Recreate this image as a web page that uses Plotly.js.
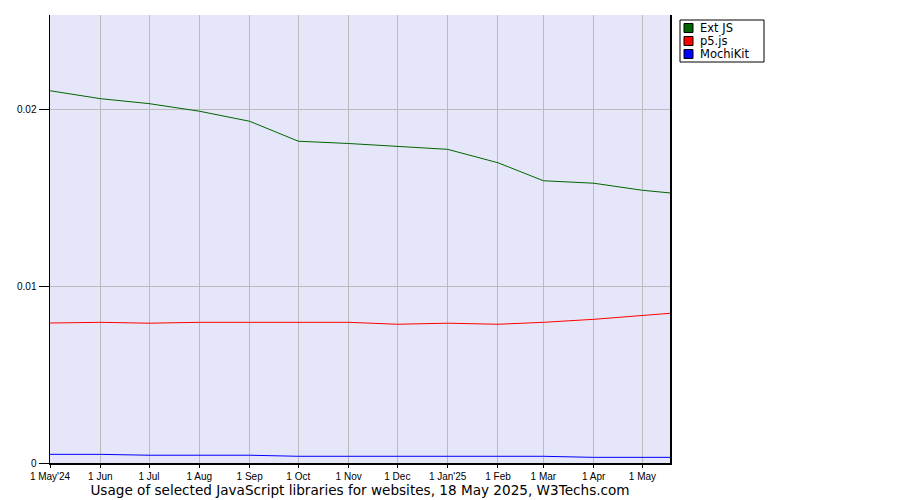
<!DOCTYPE html>
<html>
<head>
<meta charset="utf-8">
<script src="https://cdn.plot.ly/plotly-3.0.1.min.js"></script>
<style>html,body{margin:0;padding:0;background:#fff;}#chart{width:900px;height:500px;}</style>
</head>
<body>
<div id="chart"></div>
<script>
const dates = ["2024-05-01","2024-06-01","2024-07-01","2024-08-01","2024-09-01","2024-10-01","2024-11-01","2024-12-01","2025-01-01","2025-02-01","2025-03-01","2025-04-01","2025-05-01","2025-05-18"];
const extjs = [0.02109,0.02064,0.02036,0.01993,0.01936,0.01823,0.01810,0.01794,0.01777,0.01701,0.01599,0.01585,0.01545,0.01530];
const p5js = [0.00793,0.00797,0.00792,0.00797,0.00797,0.00797,0.00797,0.00786,0.00792,0.00786,0.00797,0.00814,0.00837,0.00848];
const mochikit = [0.00049,0.00049,0.00044,0.00044,0.00044,0.00038,0.00038,0.00038,0.00038,0.00038,0.00038,0.00032,0.00032,0.00032];
const seriesNames = ["Ext JS","p5.js","MochiKit"];
const seriesColors = ["#006400","#ff0000","#0000ff"];
const tickVals = ["2024-05-01","2024-06-01","2024-07-01","2024-08-01","2024-09-01","2024-10-01","2024-11-01","2024-12-01","2025-01-01","2025-02-01","2025-03-01","2025-04-01","2025-05-01"];
const tickText = ["1 May'24","1 Jun","1 Jul","1 Aug","1 Sep","1 Oct","1 Nov","1 Dec","1 Jan'25","1 Feb","1 Mar","1 Apr","1 May"];
const yTickVals = [0,0.01,0.02];
const yTickText = ["0","0.01","0.02"];
const titleText = "Usage of selected JavaScript libraries for websites, 18 May 2025, W3Techs.com";

const seriesValues = [extjs, p5js, mochikit];
const traces = seriesValues.map((v,i)=>({
  x: dates, y: v, type: 'scatter', mode: 'lines', name: seriesNames[i],
  line: {color: seriesColors[i], width: 1}, hoverinfo: 'skip', showlegend: false
}));

// plot area in pixels
const L = 50, R = 670, T = 15, B = 463;
const px = x => (x - L) / (R - L);
const py = y => (B - y) / (B - T);

const shapes = [];
const annotations = [];
// legend box
shapes.push({type:'rect', xref:'paper', yref:'paper', x0:px(680), x1:px(764), y0:py(20), y1:py(62), line:{color:'#000', width:1}, fillcolor:'#fff'});
const rowY = [28, 41, 54];
seriesNames.forEach((n,i)=>{
  shapes.push({type:'rect', xref:'paper', yref:'paper', x0:px(684), x1:px(693), y0:py(rowY[i]-4.5), y1:py(rowY[i]+4.5), line:{color:'#000', width:1}, fillcolor:seriesColors[i]});
  annotations.push({xref:'paper', yref:'paper', x:px(699), y:py(rowY[i]), xanchor:'left', yanchor:'middle', text:n, showarrow:false, borderpad:0, font:{family:'DejaVu Sans', size:11.5, color:'#000'}});
});

const layout = {
  width: 900, height: 500,
  margin: {l: L, r: 900 - R, t: T, b: 500 - B, pad: 0},
  paper_bgcolor: '#ffffff',
  plot_bgcolor: '#e6e6fa',
  showlegend: false,
  title: {text: titleText, font: {family: 'DejaVu Sans', size: 13.6, color: '#000'}, xref: 'paper', x: 0.5, xanchor: 'center', yref: 'container', y: 1 - 490/500, yanchor: 'middle'},
  xaxis: {
    type: 'date', range: ['2024-05-01', '2025-05-18'],
    tickmode: 'array', tickvals: tickVals, ticktext: tickText,
    tickfont: {family: 'Liberation Sans', size: 10, color: '#000'},
    ticks: 'outside', ticklen: 3, tickcolor: '#000',
    showgrid: true, gridcolor: '#bbbbbb', gridwidth: 1,
    showline: true, linecolor: '#000', linewidth: 1.5,
    zeroline: false, fixedrange: true
  },
  yaxis: {
    range: [0, 0.02538],
    tickmode: 'array', tickvals: yTickVals, ticktext: yTickText,
    tickfont: {family: 'Liberation Sans', size: 10, color: '#000'},
    ticks: 'outside', ticklen: 10, tickcolor: '#000',
    showgrid: true, gridcolor: '#bbbbbb', gridwidth: 1,
    showline: true, linecolor: '#000', linewidth: 1.5, mirror: true,
    zeroline: false, fixedrange: true
  },
  shapes: shapes,
  annotations: annotations
};

Plotly.newPlot('chart', traces, layout, {displayModeBar: false, staticPlot: true});
</script>
</body>
</html>
